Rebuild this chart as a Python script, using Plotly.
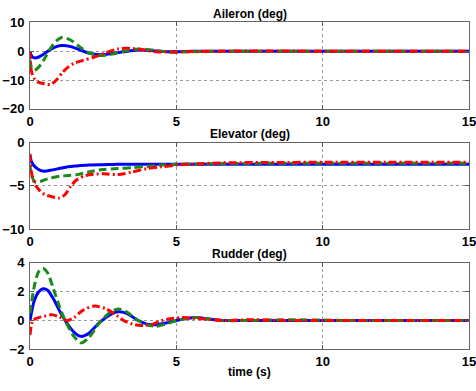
import plotly.graph_objects as go

# ---------------- data ----------------
# Aileron (deg)
t_ail = [0, 0.05, 0.15, 0.3, 0.5, 0.7, 0.9, 1.1, 1.4, 1.7, 2.0, 2.4, 2.8, 3.2, 3.7, 4.2, 4.8, 5.5, 6.5, 8, 10, 12.5, 15]
ail_blue = [0, -1.5, -2.3, -2.0, -0.8, 0.6, 1.6, 2.0, 1.6, 0.5, -0.6, -1.2, -0.8, -0.2, 0.4, 0.2, -0.2, 0, 0, 0, 0, 0, 0]
ail_green = [-3, -5.5, -6.5, -5.5, -2.5, 1.0, 3.6, 4.8, 3.8, 1.5, -0.5, -1.5, -1.0, 0, 0.8, 0.4, -0.3, -0.2, 0, 0, 0, 0, 0]
t_ail_red = [0, 0.05, 0.15, 0.3, 0.5, 0.7, 0.9, 1.1, 1.3, 1.5, 1.8, 2.2, 2.6, 3.0, 3.3, 3.8, 4.3, 4.8, 5.5, 6.5, 8, 10, 12.5, 15]
ail_red = [0, -7, -9.5, -10.8, -11.3, -11.5, -10, -7.5, -5.5, -4.2, -3.2, -2, -0.5, 0.8, 1.0, 0.6, -0.2, -0.3, -0.1, 0, 0.1, 0, 0, 0]

# Elevator (deg)
t_ele = [0, 0.05, 0.2, 0.35, 0.5, 0.7, 1.0, 1.3, 1.6, 2.0, 2.5, 3.0, 3.5, 4.0, 4.5, 5.0, 6, 8, 10, 12.5, 15]
ele_blue = [-1.5, -2.2, -2.9, -3.2, -3.3, -3.2, -3.0, -2.8, -2.7, -2.6, -2.55, -2.5, -2.5, -2.5, -2.5, -2.5, -2.5, -2.5, -2.5, -2.5, -2.5]
ele_green = [-2.5, -3.8, -4.6, -4.5, -4.3, -4.1, -3.9, -3.8, -3.7, -3.4, -3.1, -3.0, -2.9, -2.75, -2.6, -2.5, -2.45, -2.4, -2.4, -2.4, -2.4]
t_ele_red = [0, 0.05, 0.2, 0.35, 0.5, 0.7, 1.0, 1.2, 1.4, 1.6, 1.9, 2.5, 3.0, 3.5, 4.0, 4.5, 5.0, 5.5, 6.5, 8, 10, 12.5, 15]
ele_red = [-1.3, -3.5, -5.0, -5.6, -6.0, -6.2, -6.4, -6.0, -5.0, -4.3, -3.8, -3.6, -3.7, -3.4, -3.0, -2.8, -2.6, -2.5, -2.35, -2.3, -2.28, -2.28, -2.28]

# Rudder (deg)
t_rud = [0, 0.15, 0.3, 0.45, 0.6, 0.8, 1.0, 1.2, 1.5, 1.75, 2.0, 2.4, 2.7, 3.0, 3.3, 3.7, 4.0, 4.3, 4.7, 5.0, 5.4, 5.7, 6.1, 6.6, 7.5, 9, 11, 13, 15]
rud_blue = [0, 1.4, 2.0, 2.2, 2.1, 1.5, 0.7, 0.0, -0.8, -1.1, -0.9, -0.1, 0.35, 0.6, 0.5, 0.0, -0.25, -0.3, -0.15, 0.0, 0.15, 0.2, 0.1, 0.0, 0, 0, 0, 0, 0]
rud_green = [0.5, 2.4, 3.4, 3.6, 3.3, 2.2, 1.0, 0.0, -1.1, -1.55, -1.2, -0.1, 0.5, 0.8, 0.6, 0.0, -0.3, -0.4, -0.2, 0.0, 0.15, 0.2, 0.1, 0.0, 0, 0.05, 0, 0, 0]
t_rud_red = [0, 0.1, 0.3, 0.5, 0.75, 1.0, 1.25, 1.5, 1.8, 2.2, 2.6, 3.0, 3.2, 3.5, 3.8, 4.2, 4.5, 4.9, 5.2, 5.6, 6.0, 6.6, 7.5, 9, 11, 13, 15]
rud_red = [-1.0, 0.0, 0.2, 0.3, 0.4, 0.25, 0.0, 0.2, 0.7, 1.0, 0.8, 0.3, 0.0, -0.25, -0.35, -0.25, 0.0, 0.15, 0.2, 0.15, 0.1, 0.0, 0.05, 0, 0, 0, 0]

titles = ["Aileron (deg)", "Elevator (deg)", "Rudder (deg)"]
x_ticks = [0, 5, 10, 15]
y_ticks = [[10, 0, -10, -20], [0, -5, -10], [4, 2, 0, -2]]
y_ranges = [[-20, 10], [-10, 0], [-2, 4]]
xlabel = "time (s)"

# ---------------- figure ----------------
W, H = 476, 391
fig = go.Figure()

BLUE = "#0000ff"
GREEN = "#1a8a1a"
RED = "#ff0000"
LW = 3

panels = [
    (t_ail, ail_blue, ail_green, t_ail_red, ail_red),
    (t_ele, ele_blue, ele_green, t_ele_red, ele_red),
    (t_rud, rud_blue, rud_green, t_rud_red, rud_red),
]
pix = [(16, 106), (141, 231), (266, 356)]

for i, (tb, yb, yg, tr, yr) in enumerate(panels):
    xa = "x" if i == 0 else f"x{i+1}"
    ya = "y" if i == 0 else f"y{i+1}"
    fig.add_trace(go.Scatter(x=tb, y=yb, mode="lines", line=dict(color=BLUE, width=LW, shape="spline", smoothing=0.8),
                             xaxis=xa, yaxis=ya, showlegend=False))
    fig.add_trace(go.Scatter(x=tb, y=yg, mode="lines", line=dict(color=GREEN, width=LW, dash="8px,4px", shape="spline", smoothing=0.8),
                             xaxis=xa, yaxis=ya, showlegend=False))
    fig.add_trace(go.Scatter(x=tr, y=yr, mode="lines", line=dict(color=RED, width=LW, dash="8px,3px,2px,3px", shape="spline", smoothing=0.8),
                             xaxis=xa, yaxis=ya, showlegend=False))

tickfont = dict(family="Liberation Sans, Arial", size=13, color="black", weight="bold")
for i in range(3):
    top, bot = pix[i]
    dom = [1 - bot / H, 1 - top / H]
    xkey = "xaxis" if i == 0 else f"xaxis{i+1}"
    ykey = "yaxis" if i == 0 else f"yaxis{i+1}"
    yanchor = "y" if i == 0 else f"y{i+1}"
    xanchor = "x" if i == 0 else f"x{i+1}"
    fig.layout[xkey] = dict(domain=[0, 1], anchor=yanchor, range=[0, 15], tickvals=x_ticks,
                            ticks="inside", ticklen=4, tickcolor="#555", mirror="allticks",
                            showline=True, linecolor="#666", linewidth=1,
                            showgrid=True, gridcolor="#999", griddash="dot", gridwidth=1,
                            zeroline=False, tickfont=tickfont, ticklabelstandoff=0,
                            ticklabeloverflow="allow")
    fig.layout[ykey] = dict(domain=dom, anchor=xanchor, range=y_ranges[i], tickvals=y_ticks[i],
                            ticks="inside", ticklen=4, tickcolor="#555", mirror="allticks",
                            showline=True, linecolor="#666", linewidth=1,
                            showgrid=True, gridcolor="#999", griddash="dot", gridwidth=1,
                            zeroline=False, tickfont=tickfont, ticklabelstandoff=2,
                            ticklabeloverflow="allow")
    fig.add_annotation(text=titles[i], xref="paper", yref="paper", x=0.5, y=1 - (top - 9) / H,
                       showarrow=False, font=dict(family="Liberation Sans, Arial", size=12, color="black", weight="bold"),
                       xanchor="center", yanchor="middle")

fig.add_annotation(text=xlabel, xref="paper", yref="paper", x=0.5, y=1 - 380 / H,
                   showarrow=False, font=dict(family="Liberation Sans, Arial", size=12, color="black", weight="bold"),
                   xanchor="center", yanchor="middle")

fig.update_layout(width=W, height=H, margin=dict(l=30, r=6, t=0, b=0),
                  paper_bgcolor="white", plot_bgcolor="white")

fig.write_html("out.html")
